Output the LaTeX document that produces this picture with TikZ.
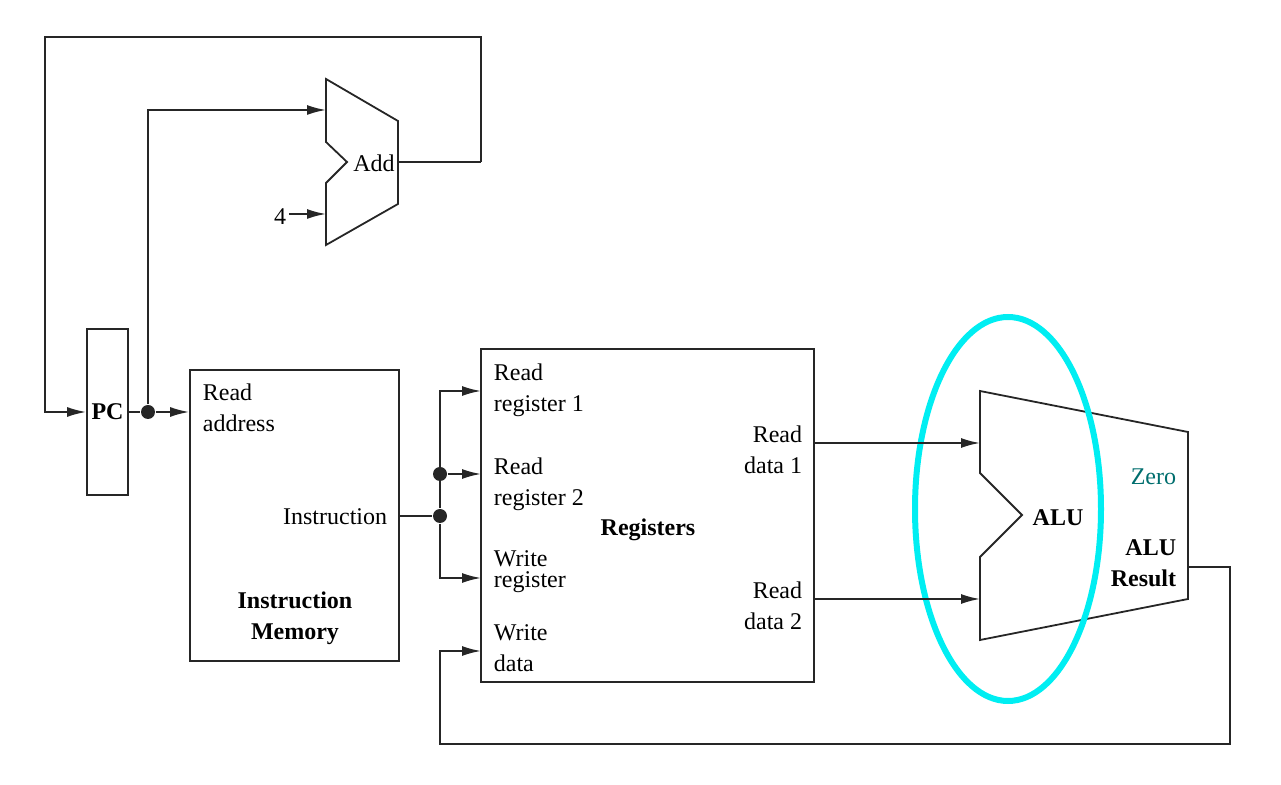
\documentclass[tikz,border=0pt]{standalone}
\usepackage{fontspec}
\setmainfont{Liberation Serif}
\usepackage{xcolor}
\usetikzlibrary{arrows.meta}
\definecolor{zerocol}{RGB}{0,110,110}
\definecolor{ringcol}{RGB}{0,238,242}

\begin{document}
\begin{tikzpicture}[x=0.5pt,y=-0.5pt,->,>={Latex[length=9.5pt,width=5pt]},line width=0.9pt,black!85]
                \tikzset{every node/.style={font=\fontsize{12}{15.5}\selectfont, text=black},
                         bold/.style={font=\fontsize{12}{15.5}\selectfont\bfseries},
                         block/.style={draw, -, inner sep=0pt},
                         lbl/.style={inner sep=0pt, align=left},
                         dot/.style={circle, fill, inner sep=0pt, minimum size=7pt}}
                \useasboundingbox (0,0) rectangle (1281,785);
                % blocks
                \node[block, bold, minimum width=20.5pt, minimum height=83pt] (PC) at (107.5,412) {PC};
                \node[block, minimum width=104.5pt, minimum height=145.5pt] (IM) at (294.5,515.5) {};
                \node[block, minimum width=166.5pt, minimum height=166.5pt] (RF) at (647.5,515.5) {};
                \draw[-] (326,79) -- (398,121) -- (398,204) -- (326,245) -- (326,183) -- (347,162) -- (326,142) -- cycle;
                \draw[-] (980,391) -- (1188,432) -- (1188,599) -- (980,640) -- (980,557) -- (1022,515) -- (980,473) -- cycle;
                \draw[-, ringcol, line width=3pt] (1008,509) ellipse [x radius=46.5pt, y radius=96pt];
                % ports
                \coordinate (add a) at (326,110);
                \coordinate (add b) at (326,214);
                \coordinate (add out) at (398,162);
                \coordinate (alu a) at (980,443);
                \coordinate (alu b) at (980,599);
                \coordinate (alu out) at (1188,567);
                \coordinate (rr1) at (481,391);
                \coordinate (rr2) at (481,474);
                \coordinate (wr) at (481,578);
                \coordinate (wd) at (481,651);
                \coordinate (rd1) at (814,443);
                \coordinate (rd2) at (814,599);
                \node[dot] (d1) at (148,412) {};
                \node[dot] (d2) at (440,516) {};
                \node[dot] (d3) at (440,474) {};
                % labels
                \node[inner sep=0pt] (add) at (374,163) {Add};
                \node[inner sep=1pt] (four) at (280,217) {4};
                \node[lbl, anchor=west] (ra) at (202,408) {Read\\address};
                \node[lbl, anchor=east] (instr) at (388,517) {Instruction};
                \node[bold, inner sep=0pt, align=center] (imem) at (295,618) {Instruction\\Memory};
                \node[lbl, anchor=west] (l rr1) at (493,390) {Read\\register 1};
                \node[lbl, anchor=west] (l rr2) at (493,484) {Read\\register 2};
                \node[lbl, anchor=west] (l wr) at (493,572) {Write\\[-5pt]register};
                \node[lbl, anchor=west] (l wd) at (493,648) {Write\\data};
                \node[bold, inner sep=0pt] (regs) at (648,530) {Registers};
                \node[lbl, align=right, anchor=east] (l rd1) at (803,450) {Read\\data 1};
                \node[lbl, align=right, anchor=east] (l rd2) at (803,606) {Read\\data 2};
                \node[bold, inner sep=0pt] (alu) at (1058,518) {ALU};
                \node[inner sep=0pt, anchor=east, text=zerocol] (zero) at (1177,477) {Zero};
                \node[bold, inner sep=0pt, align=right, anchor=east] (res) at (1177,563) {ALU\\Result};
                % wires
                \path (add out) edge[-] (481,162);
                \draw (481,162) -- (481,37) -- (45,37) |- (PC.west);
                \draw[-] (PC.east) -- (d1);
                \draw (d1) -- (IM.west |- d1);
                \draw (d1) |- (add a);
                \draw (four.east |- add b) -- (add b);
                \draw[-] (IM.east |- d2) -- (d2);
                \draw (d2) |- (rr1);
                \draw (d3) -- (rr2);
                \draw (d2) |- (wr);
                \draw (rd1) -- (alu a);
                \draw (rd2) -- (alu b);
                \draw (alu out) -- (1230,567) |- (440,744) |- (wd);
            \end{tikzpicture}
\end{document}
